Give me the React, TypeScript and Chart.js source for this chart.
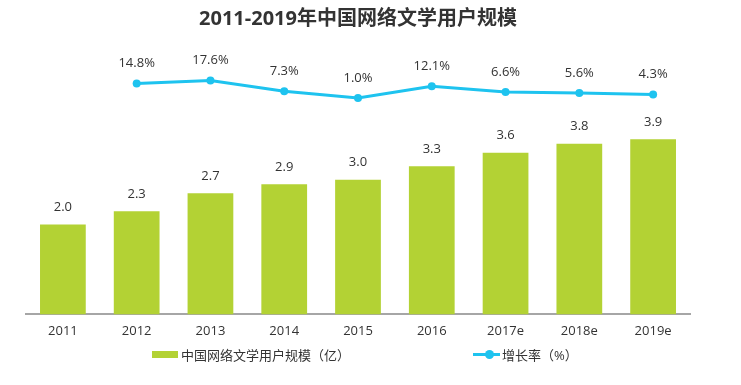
import React, { useEffect, useRef } from "react";
import { Chart, registerables } from "chart.js";

Chart.register(...registerables);

const categories = ["2011", "2012", "2013", "2014", "2015", "2016", "2017e", "2018e", "2019e"];
const users = [2.0, 2.3, 2.7, 2.9, 3.0, 3.3, 3.6, 3.8, 3.9];
const growth = [null, 14.8, 17.6, 7.3, 1.0, 12.1, 6.6, 5.6, 4.3];
const titleText = "2011-2019年中国网络文学用户规模";
const barLabel = "中国网络文学用户规模（亿）";
const lineLabel = "增长率（%）";

const GREEN = "#b3d234";
const CYAN = "#1ec3ef";
const TEXT = "#333333";
const FONT = "'Open Sans', 'Noto Sans CJK SC', sans-serif";

const valueLabels = {
  id: "valueLabels",
  afterDatasetsDraw(chart: any) {
    const ctx = chart.ctx;
    ctx.save();
    ctx.font = `13px ${FONT}`;
    ctx.fillStyle = TEXT;
    ctx.textAlign = "center";
    ctx.textBaseline = "middle";
    chart.data.datasets.forEach((ds: any, di: number) => {
      const meta = chart.getDatasetMeta(di);
      meta.data.forEach((el: any, i: number) => {
        const v = ds.data[i];
        if (v === null || v === undefined) return;
        if (ds.type === "line") {
          ctx.fillText(v.toFixed(1) + "%", el.x, el.y - 20);
        } else {
          ctx.fillText(v.toFixed(1), el.x, el.y - 17);
        }
      });
    });
    ctx.restore();
  },
};

export default function App() {
  const ref = useRef<HTMLCanvasElement>(null);
  useEffect(() => {
    document.body.style.margin = "0";
    const chart = new Chart(ref.current!, {
      type: "bar",
      data: {
        labels: categories,
        datasets: [
          {
            type: "line",
            label: lineLabel,
            data: growth as any,
            yAxisID: "y2",
            borderColor: CYAN,
            backgroundColor: CYAN,
            borderWidth: 3,
            pointRadius: 4,
            pointBorderWidth: 0,
            pointBackgroundColor: CYAN,
            tension: 0,
            order: 0,
          } as any,
          {
            type: "bar",
            label: barLabel,
            data: users,
            yAxisID: "y",
            backgroundColor: GREEN,
            categoryPercentage: 1,
            barPercentage: 0.62,
            order: 1,
          },
        ],
      },
      options: {
        animation: false,
        responsive: false,
        layout: { padding: { top: 0, left: 26, right: 51, bottom: 37 } },
        plugins: {
          legend: { display: false },
          tooltip: { enabled: false },
          title: {
            display: true,
            text: titleText,
            color: TEXT,
            font: { family: FONT, size: 20, weight: "bold" },
            padding: { top: 7, bottom: 14 },
          },
        },
        scales: {
          x: {
            grid: { display: false, drawTicks: false },
            border: { display: true, color: "#a6a6a6", width: 2 },
            ticks: { color: TEXT, font: { family: FONT, size: 13 }, padding: 9 },
          },
          y: { display: false, min: 0, max: 6 },
          y2: { display: false, min: -204.5, max: 51.25, position: "right" },
        },
      },
      plugins: [valueLabels],
    });
    return () => chart.destroy();
  }, []);

  const textStyle: React.CSSProperties = {
    position: "absolute",
    top: 345,
    fontFamily: FONT,
    fontSize: 13,
    color: TEXT,
    lineHeight: "20px",
    whiteSpace: "nowrap",
  };

  return (
    <div style={{ position: "relative", width: 741, height: 385 }}>
      <canvas ref={ref} width={741} height={385} style={{ display: "block" }} />
      <div style={{ position: "absolute", left: 152, top: 351, width: 26, height: 7, background: GREEN }} />
      <div style={{ ...textStyle, left: 181 }}>{barLabel}</div>
      <div style={{ position: "absolute", left: 473, top: 353, width: 27, height: 3, background: CYAN }} />
      <div style={{ position: "absolute", left: 485, top: 350, width: 9, height: 9, borderRadius: "50%", background: CYAN }} />
      <div style={{ ...textStyle, left: 502 }}>{lineLabel}</div>
    </div>
  );
}
